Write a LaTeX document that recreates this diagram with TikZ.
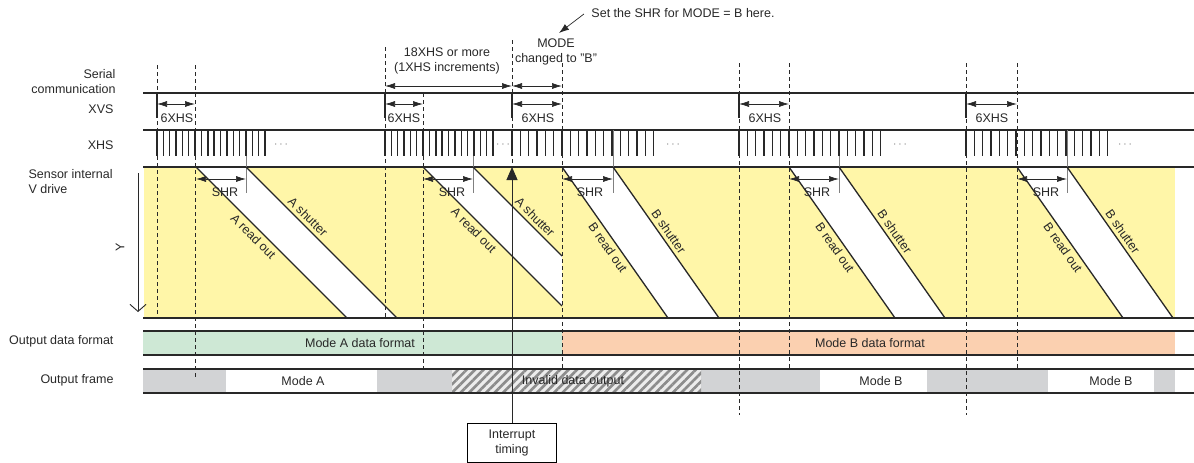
\documentclass[tikz,border=0pt]{standalone}
\usepackage{fontspec}
\setmainfont{Liberation Sans}
\usepackage{xcolor}
\usetikzlibrary{arrows.meta,patterns.meta}

\definecolor{ink}{RGB}{40,40,40}
\definecolor{vyellow}{RGB}{255,246,168}
\definecolor{fmtgreen}{RGB}{206,232,213}
\definecolor{fmtorange}{RGB}{251,208,176}
\definecolor{framegray}{RGB}{210,211,213}

\begin{document}
\begin{tikzpicture}[
  x=1pt, y=-1pt,
  font=\fontsize{12.5}{15}\selectfont, text=ink,
  rail/.style={line width=1.6pt, ink},
  guide/.style={dash pattern=on 4pt off 3pt, line width=0.7pt, ink},
  xhstick/.style={line width=1.4pt, ink},
  scan/.style={line width=1.3pt, ink},
  shrmark/.style={line width=0.7pt, gray},
  dimarr/.style={{Latex[length=10pt,width=6pt]}-{Latex[length=10pt,width=6pt]}, line width=0.7pt, ink}
]
  \useasboundingbox (0,0) rectangle (1194,463);

  % band fills
  \fill[vyellow] (144,167) rectangle (1175,318);
  \fill[fmtgreen] (143,331) rectangle (562,355);
  \fill[fmtorange] (562,331) rectangle (1175,355);
  \foreach \a/\b in {143/226, 377/452, 701/820, 927/1048, 1154/1175}
    \fill[framegray] (\a,369) rectangle (\b,393);
  \fill[gray!15] (452,369) rectangle (701,393);
  \fill[pattern={Lines[angle=45,distance=6pt,line width=2.6pt]}, pattern color=black!45] (452,369) rectangle (701,393);

  % exposure bands
  \fill[white] (196,167) -- (246,167) -- (397,318) -- (347,318) -- cycle;
  \fill[white] (423,167) -- (473,167) -- (562,256) -- (562,306) -- cycle;
  \foreach \r/\s in {562/613, 789/839, 1017/1067}
    \fill[white] (\r,167) -- (\s,167) -- ++(106,151) -- (\r+106,318) -- cycle;

  \foreach \x/\t/\b in {157/65/318, 195/65/378, 385/47/318, 423/93/368, 512/40/167,
                        562/63/368, 739/63/415, 789/63/368, 966/63/415, 1017/63/368}
    \draw[guide] (\x,\t) -- (\x,\b);

  \foreach \y in {93,130,167,318,331,355,369,393}
    \draw[rail] (143,\y) -- (1194,\y);

  % XVS and XHS
  \foreach \x in {157,385,512,739,966}
    \draw[xhstick] (\x,93) -- (\x,118);
  \foreach \a/\b/\c in {157/195/177, 385/423/404, 512/562/538, 739/789/765, 966/1017/992} {
    \draw[dimarr] (\a,104) -- (\b,104);
    \node (six\a) at (\c,118) {6XHS};
  }

  \foreach \a/\b/\c in {196/246/225, 423/473/452, 562/613/590, 789/839/817, 1017/1067/1046} {
    \draw[shrmark] (\b,130) -- (\b,193);
    \draw[dimarr] (\a,179) -- (\b,179);
    \node (shr\a) at (\c,192) {SHR};
  }

  \foreach \s/\p in {157/6.35, 385/6.35, 512/8.33, 739/8.33, 966/8.33}
    \foreach \k in {0,...,17}
      \draw[xhstick] ({\s+\k*\p},130) -- ({\s+\k*\p},156);
  \foreach \x in {281,503,673,900,1125}
    \node[gray] (dots\x) at (\x,145) {$\cdots$};

  % read out / shutter
  \draw[scan] (196,167) -- node[sloped,below,pos=0.42] (rdA1) {A read out} (347,318);
  \draw[scan] (246,167) -- node[sloped,above,pos=0.37] (shA1) {A shutter} (397,318);
  \draw[scan] (423,167) -- node[sloped,below,pos=0.41] (rdA2) {A read out} (562,306);
  \draw[scan] (473,167) -- node[sloped,above,pos=0.63] (shA2) {A shutter} (562,256);
  \foreach \r/\s/\n in {562/613/1, 789/839/2, 1017/1067/3} {
    \draw[scan] (\r,167) -- node[sloped,below,pos=0.5] (rdB\n) {B read out} ++(106,151);
    \draw[scan] (\s,167) -- node[sloped,above,pos=0.46] (shB\n) {B shutter} ++(106,151);
  }

  \draw[-{Straight Barb[length=7pt,width=16pt]}, line width=0.9pt, ink] (138,173) -- (138,312);
  \node[rotate=90] (yaxis) at (120,247) {Y};

  % top notes
  \draw[dimarr] (385,86) -- (512,86);
  \draw[dimarr] (512,86) -- (562,86);
  \node[align=center] (span18) at (447,61) {18XHS or more\\(1XHS increments)};
  \node[align=center] (modechg) at (556,52) {MODE\\changed to "B"};
  \node (sethere) at (683,13) {Set the SHR for MODE = B here.};
  \coordinate (modeptr) at (559,33);
  \draw[-{Latex[length=10pt,width=7pt]}, line width=0.7pt, ink] ([shift={(-4,1)}]sethere.west) -- (modeptr);

  % row labels
  \node[anchor=east, align=right] (lblserial) at (119,82) {Serial\\communication};
  \node[anchor=east] (lblxvs) at (117,109) {XVS};
  \node[anchor=east] (lblxhs) at (117,145) {XHS};
  \node[anchor=west, align=left] (lblvdrive) at (25,182) {Sensor internal\\V drive};
  \node[anchor=east] (lblfmt) at (117,341) {Output data format};
  \node[anchor=east] (lblframe) at (117,380) {Output frame};

  \node (fmtA) at (360,343) {Mode A data format};
  \node (fmtB) at (870,343) {Mode B data format};
  \node (frmA) at (303,381) {Mode A};
  \node (frmInv) at (573,381) {Invalid data output};
  \node (frmB1) at (881,381) {Mode B};
  \node (frmB2) at (1111,381) {Mode B};

  % interrupt
  \node[draw, line width=0.7pt, minimum width=89pt, minimum height=39pt, align=center, anchor=north, fill=white] (irq) at (512,423) {Interrupt\\timing};
  \coordinate (irqtop) at (512,167);
  \draw[-{Triangle[length=13pt,width=11pt]}, line width=0.9pt, ink] (irq) -- (irqtop);
\end{tikzpicture}
\end{document}
